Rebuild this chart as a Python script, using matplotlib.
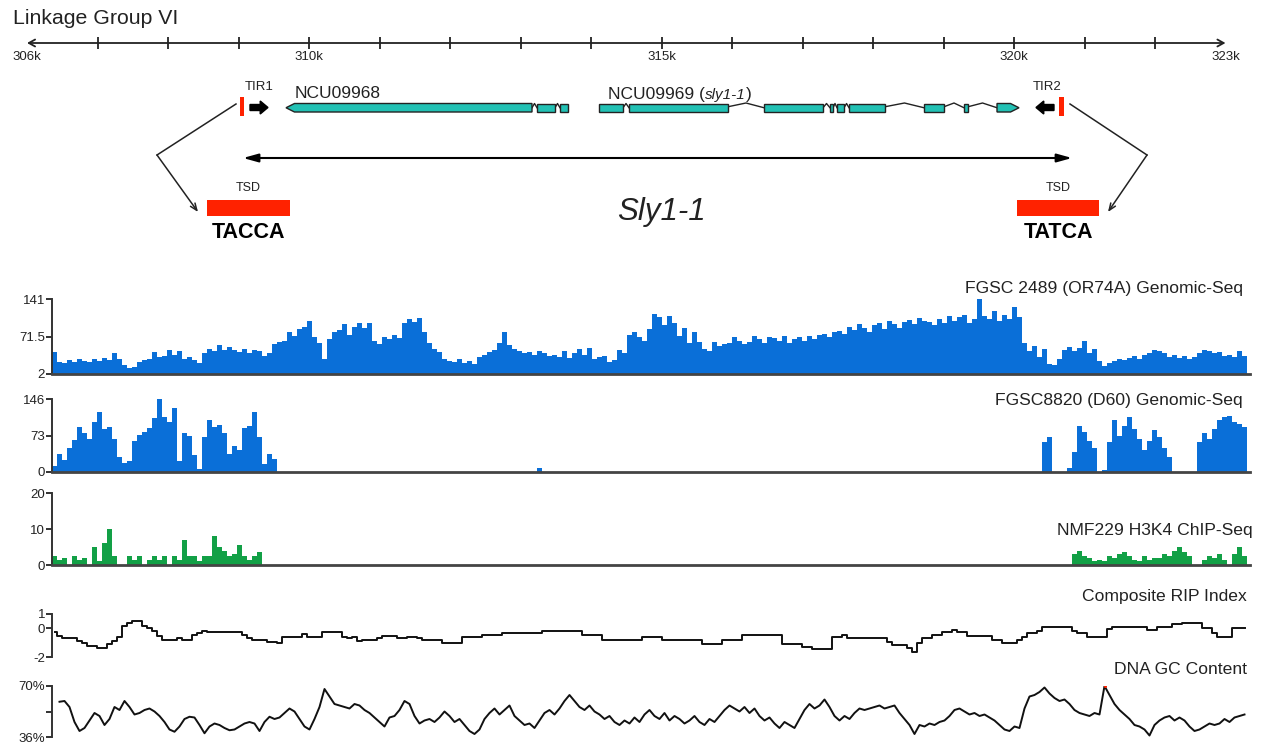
import numpy as np
import matplotlib
matplotlib.use("Agg")
import matplotlib.pyplot as plt
from matplotlib.patches import Rectangle, Polygon

plt.rcParams['font.family'] = ['Liberation Sans', 'DejaVu Sans']

# ---------------- data ----------------
ruler_start, ruler_end = 306, 323
ruler_ticks = list(range(307, 323))
ruler_labels = {306: "306k", 310: "310k", 315: "315k", 320: "320k", 323: "323k"}

ncu09968_exons = [(309.674, 313.163), (313.234, 313.489), (313.560, 313.674)]   # minus strand
ncu09969_exons = [(314.113, 314.454), (314.539, 315.943), (316.454, 317.291),
                  (317.390, 317.433), (317.489, 317.589), (317.660, 318.170),
                  (318.723, 319.007), (319.291, 319.348), (319.759, 320.071)]   # plus strand
tir1_bar = (309.021, 309.078)
tir1_arrow = (309.163, 309.418)
tir2_arrow = (320.567, 320.312)
tir2_bar = (320.638, 320.709)
sly_span = (309.064, 320.823)

# genomic-seq coverage FGSC 2489 (OR74A)
or74a = [43, 25, 22, 28, 24, 30, 26, 24, 30, 27,
         31, 28, 40, 30, 18, 14, 15, 24, 28, 30,
         42, 33, 36, 46, 38, 44, 30, 34, 28, 22,
         40, 48, 44, 56, 46, 52, 46, 42, 48, 40,
         46, 44, 36, 40, 58, 62, 64, 80, 72, 86,
         90, 100, 70, 60, 30, 66, 80, 84, 94, 74,
         90, 96, 88, 96, 64, 58, 70, 66, 74, 68,
         96, 104, 98, 106, 80, 60, 48, 42, 30, 26,
         24, 30, 22, 26, 20, 34, 38, 42, 46, 60,
         80, 56, 48, 44, 40, 42, 38, 44, 40, 36,
         38, 34, 44, 32, 40, 48, 38, 50, 30, 34,
         36, 24, 28, 46, 40, 74, 80, 70, 64, 86,
         114, 108, 92, 110, 96, 72, 88, 60, 80, 62,
         48, 44, 62, 54, 58, 60, 70, 64, 58, 62,
         72, 66, 60, 70, 68, 64, 72, 60, 66, 70,
         64, 72, 66, 74, 76, 70, 80, 82, 76, 90,
         84, 94, 88, 80, 92, 96, 86, 100, 94, 88,
         98, 102, 94, 106, 100, 98, 92, 104, 96, 110,
         100, 108, 112, 96, 104, 141, 110, 104, 118, 100,
         112, 104, 126, 108, 60, 44, 54, 34, 48, 20,
         18, 30, 46, 52, 44, 50, 64, 40, 48, 26,
         16, 22, 26, 30, 28, 32, 36, 30, 38, 40,
         46, 44, 40, 34, 38, 32, 36, 30, 34, 40,
         46, 44, 40, 42, 36, 38, 34, 44, 36]

# genomic-seq coverage FGSC8820 (D60)
d60 = [12, 36, 24, 48, 64, 90, 78, 66, 100, 120,
       86, 90, 66, 30, 18, 22, 62, 74, 80, 88,
       108, 146, 110, 100, 128, 22, 78, 72, 34, 6,
       70, 104, 90, 94, 78, 36, 52, 44, 88, 92,
       120, 70, 16, 36, 26, 0, 0, 0, 0, 0,
       0, 0, 0, 0, 0, 0, 0, 0, 0, 0,
       0, 0, 0, 0, 0, 0, 0, 0, 0, 0,
       0, 0, 0, 0, 0, 0, 0, 0, 0, 0,
       0, 0, 0, 0, 0, 0, 0, 0, 0, 0,
       0, 0, 0, 0, 0, 0, 0, 8, 0, 0,
       0, 0, 0, 0, 0, 0, 0, 0, 0, 0,
       0, 0, 0, 0, 0, 0, 0, 0, 0, 0,
       0, 0, 0, 0, 0, 0, 0, 0, 0, 0,
       0, 0, 0, 0, 0, 0, 0, 0, 0, 0,
       0, 0, 0, 0, 0, 0, 0, 0, 0, 0,
       0, 0, 0, 0, 0, 0, 0, 0, 0, 0,
       0, 0, 0, 0, 0, 0, 0, 0, 0, 0,
       0, 0, 0, 0, 0, 0, 0, 0, 0, 0,
       0, 0, 0, 0, 0, 0, 0, 0, 0, 0,
       0, 0, 0, 0, 0, 0, 0, 0, 60, 70,
       0, 0, 0, 8, 40, 92, 80, 62, 48, 0,
       4, 60, 104, 72, 92, 110, 86, 66, 44, 62,
       84, 70, 48, 30, 0, 0, 0, 0, 0, 60,
       78, 66, 86, 104, 110, 112, 100, 96, 90]

# NMF229 H3K4 ChIP-Seq
h3k4 = [2.5, 1.5, 2, 0, 2.5, 1.5, 2, 0, 5, 1,
        6, 10, 2.5, 0, 0, 2.5, 1.5, 2.5, 0, 1.5,
        2.5, 1.5, 2.5, 0, 2.5, 1.5, 7, 2.5, 2.5, 1,
        2.5, 2.5, 8, 5, 4, 2.5, 3, 5.5, 2.5, 1.5,
        2.5, 3.5, 0, 0, 0, 0, 0, 0, 0, 0,
        0, 0, 0, 0, 0, 0, 0, 0, 0, 0,
        0, 0, 0, 0, 0, 0, 0, 0, 0, 0,
        0, 0, 0, 0, 0, 0, 0, 0, 0, 0,
        0, 0, 0, 0, 0, 0, 0, 0, 0, 0,
        0, 0, 0, 0, 0, 0, 0, 0, 0, 0,
        0, 0, 0, 0, 0, 0, 0, 0, 0, 0,
        0, 0, 0, 0, 0, 0, 0, 0, 0, 0,
        0, 0, 0, 0, 0, 0, 0, 0, 0, 0,
        0, 0, 0, 0, 0, 0, 0, 0, 0, 0,
        0, 0, 0, 0, 0, 0, 0, 0, 0, 0,
        0, 0, 0, 0, 0, 0, 0, 0, 0, 0,
        0, 0, 0, 0, 0, 0, 0, 0, 0, 0,
        0, 0, 0, 0, 0, 0, 0, 0, 0, 0,
        0, 0, 0, 0, 0, 0, 0, 0, 0, 0,
        0, 0, 0, 0, 0, 0, 0, 0, 0, 0,
        0, 0, 0, 0, 3, 4, 2.5, 2, 1, 1.5,
        1, 2.5, 2, 3, 3.5, 2.5, 1.5, 1, 2.5, 1.5,
        2, 2, 3, 2.5, 4, 5, 3.5, 2.5, 0, 0,
        1.5, 2.5, 2, 3, 1.5, 0, 3, 5, 2.5]

# Composite RIP index
rip = [-0.27, -0.55, -0.7, -0.7, -0.7, -0.9, -1.05, -1.25, -1.25, -1.36,
       -1.36, -1.12, -0.9, -0.57, 0.19, 0.36, 0.5, 0.54, 0.19, 0.0,
       -0.17, -0.53, -0.84, -0.84, -0.84, -0.7, -0.84, -0.84, -0.45, -0.3,
       -0.17, -0.24, -0.24, -0.24, -0.24, -0.27, -0.27, -0.27, -0.48, -0.69,
       -0.84, -0.84, -0.84, -0.95, -0.95, -1.0, -0.57, -0.57, -0.57, -0.57,
       -0.4, -0.57, -0.57, -0.57, -0.27, -0.27, -0.27, -0.27, -0.57, -0.65,
       -0.57, -0.9, -0.78, -0.78, -0.78, -0.65, -0.52, -0.52, -0.52, -0.65,
       -0.65, -0.57, -0.57, -0.7, -0.8, -0.8, -0.8, -0.8, -1.0, -1.0,
       -1.0, -1.0, -0.6, -0.6, -0.6, -0.6, -0.5, -0.5, -0.5, -0.5,
       -0.35, -0.35, -0.35, -0.35, -0.35, -0.35, -0.35, -0.35, -0.2, -0.2,
       -0.2, -0.2, -0.2, -0.2, -0.2, -0.2, -0.5, -0.5, -0.5, -0.5,
       -0.8, -0.8, -0.8, -0.8, -0.8, -0.8, -0.8, -0.8, -0.6, -0.6,
       -0.6, -0.6, -0.8, -0.8, -0.8, -0.8, -0.8, -0.8, -0.8, -0.8,
       -1.1, -1.1, -1.1, -1.1, -0.8, -0.8, -0.8, -0.8, -0.5, -0.5,
       -0.5, -0.5, -0.5, -0.5, -0.5, -0.5, -1.1, -1.1, -1.1, -1.1,
       -1.3, -1.3, -1.45, -1.45, -1.45, -1.45, -0.6, -0.6, -0.48, -0.65,
       -0.65, -0.65, -0.65, -0.65, -0.65, -0.65, -0.65, -0.95, -1.17, -1.17,
       -1.17, -1.4, -1.67, -1.0, -0.65, -0.65, -0.45, -0.45, -0.27, -0.27,
       -0.12, -0.27, -0.27, -0.53, -0.53, -0.53, -0.53, -0.53, -0.83, -0.83,
       -1.0, -1.0, -1.0, -0.8, -0.57, -0.36, -0.36, -0.17, 0.07, 0.07,
       0.07, 0.07, 0.07, 0.07, -0.17, -0.3, -0.3, -0.57, -0.57, -0.57,
       -0.57, -0.05, 0.07, 0.07, 0.07, 0.07, 0.07, 0.07, 0.07, -0.1,
       -0.1, 0.07, 0.07, 0.07, 0.3, 0.3, 0.36, 0.36, 0.36, 0.36,
       0.0, 0.0, -0.36, -0.6, -0.6, -0.6, 0.0, 0.0, 0.0]

# DNA GC content (%)
gc = [np.nan, 59.5, 60, 56, 46, 40, 42, 47, 52, 50,
      44, 48, 56, 54, 60, 56, 51, 52, 54, 55,
      53, 50, 46, 41, 39.5, 43, 48, 49.5, 49, 44,
      38.5, 43, 45, 44, 42, 40.5, 41, 43, 45, 46,
      45, 40, 46, 49.5, 48, 49, 52, 55, 53, 48,
      43, 41, 48, 56, 68, 63, 58, 57, 56, 55,
      58, 57, 54, 52, 49, 46, 43, 49, 50, 54,
      60, 58, 50, 45, 47, 48, 46, 49, 53, 50,
      46, 48, 44, 40, 38, 41, 48, 52, 55, 51,
      54, 57, 50, 47, 44, 45, 42, 47, 52, 54,
      51, 55, 60, 64, 60, 56, 54, 57, 53, 51,
      48, 50, 46, 44, 47, 45, 49, 46, 51, 54,
      50, 48, 52, 47, 50, 48, 45, 47, 50, 46,
      44, 48, 46, 50, 54, 57, 55, 53, 56, 52,
      55, 50, 47, 49, 45, 42, 46, 44, 42, 48,
      54, 58, 55, 57, 61, 56, 50, 47, 50, 48,
      52, 55, 54, 55, 56, 57, 55, 56, 57, 52,
      48, 44, 38, 44, 43, 45, 44, 46, 47, 50,
      54, 55, 53, 51, 52, 50, 51, 49, 47, 44,
      41, 40, 43, 42, 55, 63, 64, 66, 69, 65,
      62, 60, 61, 58, 54, 52, 51, 50, 52, 51,
      70, 64, 58, 54, 51, 48, 44, 43, 41, 37,
      44, 47, 49, 50, 47, 49, 47, 43, 40, 41,
      43, 45, 44, 45, 48, 46, 49, 50, 51]

track_titles = ["FGSC 2489 (OR74A) Genomic-Seq", "FGSC8820 (D60) Genomic-Seq",
                "NMF229 H3K4 ChIP-Seq", "Composite RIP Index", "DNA GC Content"]

# ---------------- style / layout ----------------
W, H = 1261, 743
BLUE = '#0a6fd8'
GREEN = '#12a046'
TEAL = '#22c1b4'
RED = '#ff2200'
DARK = '#222222'

fig = plt.figure(figsize=(W / 100, H / 100), dpi=100)


def rect(x0, y0, x1, y1):
    return [x0 / W, 1 - y1 / H, (x1 - x0) / W, (y1 - y0) / H]


# top schematic axes: x in kb, y in pixels
axT = fig.add_axes([0, 0, 1, 1], zorder=0)
px_per_kb = 70.5
x0px = 27
axT.set_xlim(ruler_start - x0px / px_per_kb, ruler_start + (W - x0px) / px_per_kb)
axT.set_ylim(H, 0)
axT.axis('off')


def kb(px):
    return ruler_start + (px - x0px) / px_per_kb


fig.text(13 / W, 1 - 18 / H, "Linkage Group VI", fontsize=15.3, va='center', ha='left', color=DARK)

# ruler
axT.annotate('', xy=(ruler_end, 43), xytext=(ruler_start, 43),
             arrowprops=dict(arrowstyle='<->,head_length=0.45,head_width=0.25', lw=1.3,
                             color=DARK, shrinkA=0, shrinkB=0))
axT.vlines(ruler_ticks, 37, 49, color=DARK, lw=1.3)
for k, lab in ruler_labels.items():
    axT.text(k, 57, lab, ha='center', va='center', fontsize=9.5, color=DARK)

# genes
ytop, ybot = 103.5, 112
yc = (ytop + ybot) / 2
ah = 0.12


def draw_gene(exons, strand):
    n = len(exons)
    for i, (s, e) in enumerate(exons):
        if strand < 0 and i == 0:
            pts = [(s, yc), (s + ah, ytop), (e, ytop), (e, ybot), (s + ah, ybot)]
        elif strand > 0 and i == n - 1:
            pts = [(s, ytop), (e - ah, ytop), (e, yc), (e - ah, ybot), (s, ybot)]
        else:
            pts = [(s, ytop), (e, ytop), (e, ybot), (s, ybot)]
        axT.add_patch(Polygon(pts, closed=True, facecolor=TEAL, edgecolor=DARK, lw=1.0, zorder=3))
    for (s1, e1), (s2, e2) in zip(exons[:-1], exons[1:]):
        gap = s2 - e1
        if gap > 0.2:
            axT.plot([e1, (e1 + s2) / 2, s2], [yc - 1, ytop - 0.5, yc], color=DARK, lw=1.0, zorder=2)
        else:
            axT.plot([e1, (e1 + s2) / 2, s2], [yc, ytop, yc], color=DARK, lw=1.0, zorder=2)


draw_gene(ncu09968_exons, -1)
draw_gene(ncu09969_exons, +1)
axT.text(kb(295), 93, "NCU09968", fontsize=12.5, ha='left', va='center', color=DARK)
t1 = axT.text(kb(608), 95, "NCU09969 (", fontsize=12.5, ha='left', va='center', color=DARK)
t2 = axT.annotate("sly1-1", xy=(1, 0), xycoords=t1, fontsize=11, style='italic',
                  ha='left', va='bottom', color=DARK)
axT.annotate(")", xy=(1, 0), xycoords=t2, fontsize=12.5, ha='left', va='bottom', color=DARK)

# TIRs
for (s, e) in (tir1_bar, tir2_bar):
    axT.add_patch(Rectangle((s, 97), e - s, 19, facecolor=RED, edgecolor='none', zorder=3))
for (s, e) in (tir1_arrow, tir2_arrow):
    axT.arrow(s, 107.5, e - s, 0, width=6, head_width=13, head_length=0.11,
              length_includes_head=True, color='black', zorder=3)
axT.text(kb(259), 87, "TIR1", fontsize=9.5, ha='center', va='center', color=DARK)
axT.text(kb(1047), 87, "TIR2", fontsize=9.5, ha='center', va='center', color=DARK)

# bent pointers from TIRs to TSDs
for pts in ([(236, 104), (157, 155), (198, 212)], [(1070, 104), (1147, 155), (1108, 212)]):
    (xa, ya), (xb, yb), (xc, yc2) = pts
    axT.plot([kb(xa), kb(xb)], [ya, yb], color=DARK, lw=1.1)
    axT.annotate('', xy=(kb(xc), yc2), xytext=(kb(xb), yb),
                 arrowprops=dict(arrowstyle='->,head_length=0.5,head_width=0.2', lw=1.1,
                                 color=DARK, shrinkA=0, shrinkB=0))

# span arrow
axT.annotate('', xy=(sly_span[1], 158), xytext=(sly_span[0], 158),
             arrowprops=dict(arrowstyle='<|-|>,head_length=0.9,head_width=0.25', lw=1.5,
                             color='black', shrinkA=0, shrinkB=0))
axT.text(kb(661), 212, "Sly1-1", fontsize=22.5, style='italic', ha='center', va='center', color=DARK)

# TSD boxes
for (xa, xb, seq) in ((207, 290, "TACCA"), (1017, 1099, "TATCA")):
    axT.add_patch(Rectangle((kb(xa), 200), kb(xb) - kb(xa), 16, facecolor=RED, edgecolor='none'))
    axT.text((kb(xa) + kb(xb)) / 2, 188, "TSD", fontsize=9, ha='center', va='center', color=DARK)
    axT.text((kb(xa) + kb(xb)) / 2, 232, seq, fontsize=15.5, fontweight='bold', ha='center',
             va='center', color='black')

# ---------------- tracks ----------------
n = len(or74a)
xs = np.arange(n)
xl = (-0.5, n - 0.5 + 0.6)


def style(ax, bottom=True):
    for s in ('top', 'right'):
        ax.spines[s].set_visible(False)
    ax.spines['left'].set_color('#333333')
    ax.spines['left'].set_linewidth(1.4)
    if bottom:
        ax.spines['bottom'].set_color('#444444')
        ax.spines['bottom'].set_linewidth(2.0)
    else:
        ax.spines['bottom'].set_visible(False)
    ax.set_xlim(*xl)
    ax.set_xticks([])
    ax.tick_params(axis='y', direction='out', length=4, width=1.3, labelsize=9.5,
                   pad=1, colors='#222222')
    ax.patch.set_alpha(0)


ax1 = fig.add_axes(rect(52, 299, 1250, 374), zorder=2)
ax1.bar(xs, or74a, width=1.0, color=BLUE, linewidth=0)
ax1.set_ylim(2, 141)
ax1.set_yticks([2, 71.5, 141], ["2", "71.5", "141"])
style(ax1)

ax2 = fig.add_axes(rect(52, 399, 1250, 472), zorder=2)
ax2.bar(xs, d60, width=1.0, color=BLUE, linewidth=0)
ax2.set_ylim(0, 146)
ax2.set_yticks([0, 73, 146], ["0", "73", "146"])
style(ax2)

ax3 = fig.add_axes(rect(52, 493, 1250, 565), zorder=2)
ax3.bar(xs, h3k4, width=1.0, color=GREEN, linewidth=0)
ax3.set_ylim(0, 20)
ax3.set_yticks([0, 10, 20], ["0", "10", "20"])
style(ax3)

ax4 = fig.add_axes(rect(52, 614, 1250, 657), zorder=2)
ax4.plot(xs, rip, drawstyle='steps-mid', color='#111111', lw=1.4)
ax4.set_ylim(-2, 1)
ax4.set_yticks([-2, 0, 1], ["-2", "0", "1"])
style(ax4, bottom=False)

ax5 = fig.add_axes(rect(52, 686, 1250, 737), zorder=2)
ax5.plot(xs, gc, color='#111111', lw=1.4)
imax = int(np.nanargmax(gc))
ax5.plot([imax], [gc[imax]], 'o', color=RED, ms=2.2, mec='none')
ax5.set_ylim(36, 70)
ax5.set_yticks([36, 53, 70], ["36%", "", "70%"])
style(ax5, bottom=False)

title_pos = [(1243, 288), (1243, 400), (1253, 531), (1247, 597), (1247, 670)]
for t, (tx, ty) in zip(track_titles, title_pos):
    fig.text(tx / W, 1 - ty / H, t, fontsize=12.6, ha='right', va='center', color=DARK)

fig.savefig("out.png", dpi=100)
